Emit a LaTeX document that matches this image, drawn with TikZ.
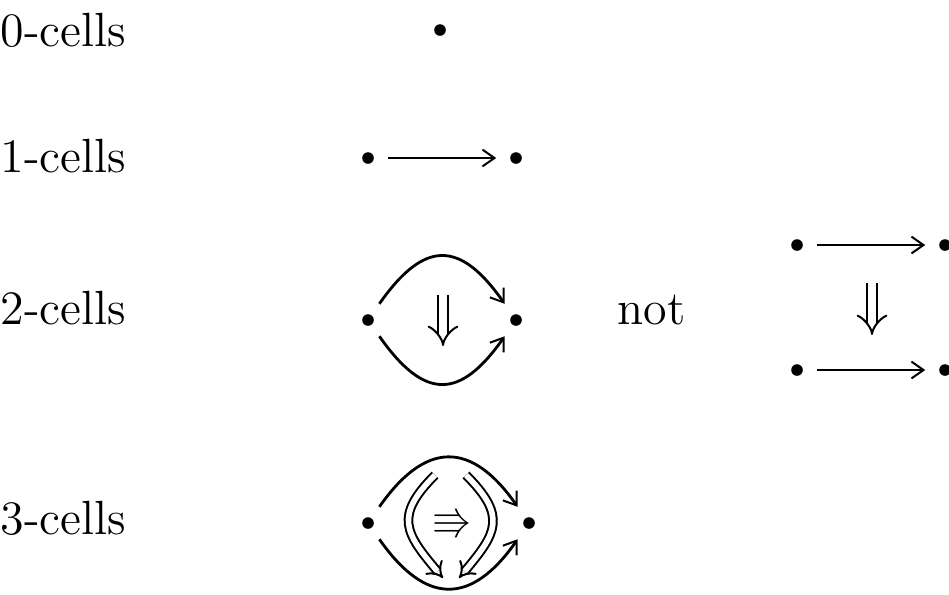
\documentclass[tikz,border=0pt]{standalone}
\usepackage{amssymb}
\usetikzlibrary{arrows.meta}
\begin{document}
\begin{tikzpicture}[x=0.25pt,y=0.25pt,
  dot/.style={circle,fill,inner sep=0pt,minimum size=2.9pt,outer sep=3.5pt},
  lbl/.style={anchor=base west,inner sep=0pt,font=\fontsize{12}{14}\selectfont},
  cellarrow/.style={line width=0.5pt,-{Straight Barb[length=3pt,width=4.2pt,line width=0.5pt]}},
  curvearrow/.style={line width=0.7pt,-{Straight Barb[length=3pt,width=4.2pt,line width=0.5pt]}},
  twocell/.style={line width=0.5pt,double,double distance=2.2pt,-{Implies}},
  twocellthin/.style={line width=0.5pt,double,double distance=1.4pt,-{Implies}}
]
\useasboundingbox (0,0) rectangle (949,-594);

% row labels
\node[lbl] (l0) at (0,-46) {0-cells};
\node[lbl] (l1) at (0,-172) {1-cells};
\node[lbl] (l2) at (0,-324) {2-cells};
\node[lbl] (l3) at (0,-534) {3-cells};
\node[lbl] (nt) at (617,-324) {not};

% 0-cell
\node[dot] (z0) at (440,-30) {};

% 1-cell
\node[dot] (o1) at (368,-158) {};
\node[dot] (o2) at (516,-158) {};
\draw[cellarrow] (o1) -- (o2);

% 2-cell (globular)
\node[dot] (t1) at (368,-320) {};
\node[dot] (t2) at (516,-320) {};
\draw[curvearrow] (t1.55) to[out=55,in=125,looseness=1.6] (t2.125);
\draw[curvearrow] (t1.-55) to[out=-55,in=-125,looseness=1.6] (t2.-125);
\coordinate (tu) at (443,-295);
\coordinate (td) at (443,-346);
\draw[twocell] (tu) -- (td);

% square, not a 2-cell
\node[dot] (s1) at (797,-245) {};
\node[dot] (s2) at (945,-245) {};
\node[dot] (s3) at (797,-370) {};
\node[dot] (s4) at (945,-370) {};
\draw[cellarrow] (s1) -- (s2);
\draw[cellarrow] (s3) -- (s4);
\coordinate (su) at (872,-283);
\coordinate (sd) at (872,-335);
\draw[twocell] (su) -- (sd);

% 3-cell
\node[dot] (h1) at (368,-523) {};
\node[dot] (h2) at (529,-523) {};
\draw[curvearrow] (h1.55) to[out=55,in=125,looseness=1.5] (h2.125);
\draw[curvearrow] (h1.-55) to[out=-55,in=-125,looseness=1.5] (h2.-125);
\coordinate (al) at (435,-475);
\coordinate (bl) at (443,-578);
\coordinate (ar) at (466,-475);
\coordinate (br) at (459,-578);
\draw[twocellthin] (al) to[out=225,in=130,looseness=1.45] (bl);
\draw[twocellthin] (ar) to[out=-45,in=50,looseness=1.45] (br);
\node[inner sep=0pt,font=\fontsize{10}{12}\selectfont] (tr) at (452,-523) {$\Rrightarrow$};
\end{tikzpicture}
\end{document}
